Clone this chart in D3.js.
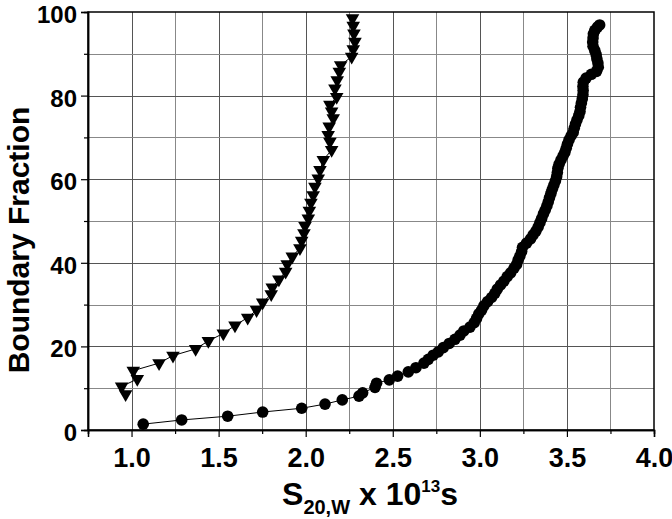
<!DOCTYPE html>
<html>
<head>
<meta charset="utf-8">
<script src="https://cdn.jsdelivr.net/npm/d3@7"></script>
<style>
  body { margin: 0; background: #fff; }
  text { font-family: "Liberation Sans Narrow", "Liberation Sans", Arial, sans-serif; font-weight: bold; }
</style>
</head>
<body>
<svg id="chart"></svg>
<script>
  // Triangle series (s20,w x 10^13 s, boundary fraction %)
  const triS = [0.966, 0.943, 1.033, 1.010, 1.158, 1.238, 1.368, 1.441, 1.527, 1.594,
    1.667, 1.718, 1.753, 1.802, 1.808, 1.846, 1.885, 1.894, 1.923, 1.967,
    1.977, 1.990, 1.996, 2.015, 2.021, 2.030, 2.043, 2.053, 2.072, 2.082,
    2.101, 2.149, 2.139, 2.129, 2.135, 2.158, 2.149, 2.139, 2.178, 2.168,
    2.181, 2.193, 2.201, 2.264, 2.273, 2.283, 2.277, 2.273, 2.269];
  const triF = [8.6, 10.4, 12.2, 14.2, 16.0, 17.8, 19.4, 21.3, 23.1, 25.0,
    26.9, 28.7, 30.5, 32.5, 34.1, 36.0, 37.9, 39.7, 41.5, 43.5,
    45.3, 47.1, 48.8, 50.6, 52.5, 54.4, 56.2, 58.2, 60.2, 62.2,
    64.6, 67.0, 69.0, 70.6, 72.6, 74.6, 76.2, 77.8, 79.7, 81.7,
    83.7, 85.7, 87.3, 89.3, 91.1, 92.9, 94.9, 96.7, 98.5];

  // Circle series
  const cirS = [1.067, 1.288, 1.552, 1.753, 1.977, 2.111, 2.210, 2.306, 2.327, 2.398,
    2.407, 2.480, 2.528, 2.589, 2.633, 2.679, 2.704, 2.732, 2.761, 2.790,
    2.824, 2.857, 2.886, 2.908, 2.943, 2.968, 2.981, 2.994, 3.010, 3.023,
    3.044, 3.067, 3.086, 3.100, 3.119, 3.138, 3.157, 3.177, 3.196, 3.211,
    3.220, 3.230, 3.240, 3.245, 3.268, 3.291, 3.306, 3.322, 3.335, 3.345,
    3.355, 3.365, 3.375, 3.385, 3.393, 3.400, 3.408, 3.416, 3.425, 3.434,
    3.441, 3.445, 3.448, 3.455, 3.466, 3.478, 3.488, 3.496, 3.503, 3.512,
    3.524, 3.536, 3.542, 3.549, 3.558, 3.568, 3.575, 3.578, 3.583, 3.588,
    3.592, 3.593, 3.592, 3.594, 3.610, 3.640, 3.670, 3.680, 3.678, 3.672,
    3.668, 3.660, 3.650, 3.648, 3.650, 3.652, 3.660, 3.675, 3.688];
  const cirF = [1.4, 2.4, 3.3, 4.3, 5.2, 6.2, 7.2, 8.1, 8.9, 10.2,
    11.2, 12.0, 12.9, 13.9, 14.9, 16.0, 16.9, 17.9, 18.7, 19.7,
    20.7, 21.7, 22.7, 23.7, 24.6, 25.7, 26.7, 27.8, 28.7, 29.7,
    30.7, 31.7, 32.7, 33.7, 34.7, 35.6, 36.7, 37.6, 38.7, 39.6,
    40.7, 41.6, 42.7, 43.7, 44.7, 45.7, 46.7, 47.6, 48.6, 49.6,
    50.6, 51.7, 52.6, 53.6, 54.6, 55.6, 56.6, 57.6, 58.6, 59.6,
    60.6, 61.6, 62.6, 63.6, 64.6, 65.6, 66.4, 67.4, 68.4, 69.4,
    70.4, 71.2, 72.2, 73.2, 74.2, 75.2, 76.2, 77.2, 78.2, 79.2,
    80.2, 81.2, 82.2, 83.2, 84.2, 85.1, 85.8, 86.8, 87.8, 88.8,
    89.8, 90.8, 91.8, 92.8, 93.8, 94.8, 95.6, 96.4, 96.9];

  const xTicks = [1.0, 1.5, 2.0, 2.5, 3.0, 3.5, 4.0];
  const xMinor = [0.75, 1.25, 1.75, 2.25, 2.75, 3.25, 3.75];
  const yTicks = [0, 20, 40, 60, 80, 100];
  const yMinor = [10, 30, 50, 70, 90];

  const width = 672, height = 519;
  const mLeft = 88, mRight = 654, mTop = 12, mBottom = 430;

  const svg = d3.select("#chart").attr("width", width).attr("height", height);

  const x = d3.scaleLinear().domain([0.75, 4.0]).range([mLeft, mRight]);
  const y = d3.scaleLinear().domain([0, 100]).range([mBottom, mTop]);

  // grid
  const grid = svg.append("g");
  grid.selectAll(".vg").data(xTicks.concat(xMinor).filter(v => v > 0.75 && v < 4.0))
    .enter().append("line")
    .attr("x1", d => Math.round(x(d)) + 0.5).attr("x2", d => Math.round(x(d)) + 0.5)
    .attr("y1", mTop).attr("y2", mBottom)
    .attr("stroke", d => xTicks.includes(d) ? "#555" : "#888").attr("stroke-width", 1);
  grid.selectAll(".hg").data(yTicks.concat(yMinor).filter(v => v > 0 && v < 100))
    .enter().append("line")
    .attr("y1", d => Math.round(y(d)) + 0.5).attr("y2", d => Math.round(y(d)) + 0.5)
    .attr("x1", mLeft).attr("x2", mRight)
    .attr("stroke", d => yTicks.includes(d) ? "#555" : "#888").attr("stroke-width", 1);

  // frame
  svg.append("rect").attr("x", mLeft).attr("y", mTop)
    .attr("width", mRight - mLeft).attr("height", mBottom - mTop)
    .attr("fill", "none").attr("stroke", "#000").attr("stroke-width", 1.5);

  // axes
  svg.append("g").attr("class", "xax").attr("transform", `translate(0,${mBottom})`)
    .call(d3.axisBottom(x).tickValues(xTicks).tickFormat(d3.format(".1f")).tickSize(7).tickPadding(11));
  svg.append("g").attr("transform", `translate(0,${mBottom})`)
    .call(d3.axisBottom(x).tickValues(xMinor).tickFormat("").tickSize(4));
  svg.append("g").attr("class", "yax").attr("transform", `translate(${mLeft},0)`)
    .call(d3.axisLeft(y).tickValues(yTicks).tickFormat(d3.format("d")).tickSize(7).tickPadding(4));
  svg.append("g").attr("transform", `translate(${mLeft},0)`)
    .call(d3.axisLeft(y).tickValues(yMinor).tickFormat("").tickSize(4));
  svg.selectAll(".domain").attr("stroke", "#000").attr("stroke-width", 1.5);
  svg.selectAll(".tick line").attr("stroke", "#000").attr("stroke-width", 1.2);
  svg.selectAll(".tick text").attr("font-weight", "bold")
    .attr("font-family", "'Liberation Sans Narrow', 'Liberation Sans', Arial, sans-serif").attr("fill", "#000");
  svg.selectAll(".xax .tick text").attr("font-size", 27);
  svg.selectAll(".yax .tick text").attr("font-size", 24).attr("dy", "0.44em");

  // series
  const tri = triS.map((s, i) => ({ s, f: triF[i] }));
  const cir = cirS.map((s, i) => ({ s, f: cirF[i] }));
  const line = d3.line().x(d => x(d.s)).y(d => y(d.f));

  svg.append("path").datum(tri).attr("d", line)
    .attr("fill", "none").attr("stroke", "#000").attr("stroke-width", 1);
  svg.append("path").datum(cir).attr("d", line)
    .attr("fill", "none").attr("stroke", "#000").attr("stroke-width", 1);

  const triSym = d3.symbol().type(d3.symbolTriangle).size(80);
  svg.selectAll(".tri").data(tri).enter().append("path")
    .attr("d", triSym)
    .attr("transform", d => `translate(${x(d.s)},${y(d.f)}) rotate(180)`)
    .attr("fill", "#000");

  svg.selectAll(".cir").data(cir).enter().append("circle")
    .attr("cx", d => x(d.s)).attr("cy", d => y(d.f)).attr("r", 5.8)
    .attr("fill", "#000");

  // titles
  svg.append("text")
    .attr("transform", "translate(29,240) rotate(-90)")
    .attr("text-anchor", "middle").attr("font-size", 30)
    .text("Boundary Fraction");

  const xt = svg.append("text").attr("x", 370).attr("y", 505)
    .attr("text-anchor", "middle").attr("font-size", 32);
  xt.append("tspan").text("S");
  xt.append("tspan").attr("font-size", 20).attr("dy", 9).text("20,W");
  xt.append("tspan").attr("dy", -9).text(" x 10");
  xt.append("tspan").attr("font-size", 17).attr("dy", -13).text("13");
  xt.append("tspan").attr("dy", 13).text("s");
</script>
</body>
</html>
